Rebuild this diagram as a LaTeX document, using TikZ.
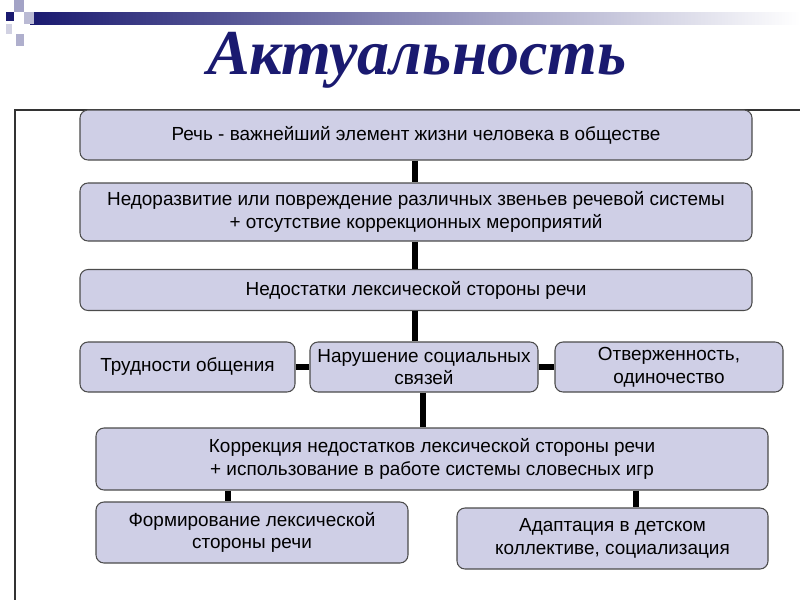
\documentclass[tikz,border=0pt]{standalone}
\usepackage{fontspec}
\setmainfont{Liberation Sans}
\newfontfamily\titlefont{Liberation Serif}
\definecolor{boxfill}{HTML}{CFCFE6}
\definecolor{navy}{HTML}{1A1A70}
\begin{document}
\begin{tikzpicture}[x=0.75pt,y=-0.75pt,
  box/.style={draw=black!70,fill=boxfill,rounded corners=6pt,line width=0.8pt,align=center,font=\fontsize{14.2}{17}\selectfont,inner sep=2pt},
  link/.style={line width=4pt,black}]
\useasboundingbox (0,0) rectangle (800,600);
% decoration
\shade[left color=navy,right color=white] (30,12) rectangle (800,24);
\fill[navy] (6,12) rectangle (14,21);
\fill[navy!40] (14,0) rectangle (24,12);
\fill[navy!30] (24,12) rectangle (34,24);
\fill[navy!20] (6,24) rectangle (12,34);
\fill[navy!35] (16,34) rectangle (24,46);
\node[font=\titlefont\itshape\bfseries\fontsize{48}{52}\selectfont,text=navy] (title) at (417,60) {Актуальность};
% frame
\draw[black!80,line width=0.8pt] (800,110) -- (15,110) -- (15,600);
% boxes
\node[box,minimum width=672*0.75pt,minimum height=50*0.75pt] (b1) at (416,135) {Речь - важнейший элемент жизни человека в обществе};
\node[box,minimum width=672*0.75pt,minimum height=58*0.75pt] (b2) at (416,212) {Недоразвитие или повреждение различных звеньев речевой системы\\+ отсутствие коррекционных мероприятий};
\node[box,minimum width=672*0.75pt,minimum height=41*0.75pt] (b3) at (416,290) {Недостатки лексической стороны речи};
\node[box,minimum width=215*0.75pt,minimum height=50*0.75pt] (b4a) at (187.5,367) {Трудности общения};
\node[box,minimum width=228*0.75pt,minimum height=50*0.75pt] (b4b) at (424,367) {Нарушение социальных\\связей};
\node[box,minimum width=228*0.75pt,minimum height=50*0.75pt] (b4c) at (669,367) {Отверженность,\\одиночество};
\node[box,minimum width=672*0.75pt,minimum height=62*0.75pt] (b5) at (432,459) {Коррекция недостатков лексической стороны речи\\+ использование в работе системы словесных игр};
\node[box,minimum width=312*0.75pt,minimum height=61*0.75pt] (b6a) at (252,532.5) {Формирование лексической\\стороны речи};
\node[box,minimum width=311*0.75pt,minimum height=61*0.75pt] (b6b) at (612.5,538.5) {Адаптация в детском\\коллективе, социализация};
% connectors
\draw[link] (b1.south -| 415,0) -- (b2.north -| 415,0);
\draw[link] (b2.south -| 415,0) -- (b3.north -| 415,0);
\draw[link] (b3.south -| 415,0) -- (b4b.north -| 415,0);
\draw[link] (b4b.south -| 423,0) -- (b5.north -| 423,0);
\draw[link] (b4a.east) -- (b4b.west);
\draw[link] (b4b.east) -- (b4c.west);
\draw[link] (b5.south -| 228,0) -- (b6a.north -| 228,0);
\draw[link] (b5.south -| 636,0) -- (b6b.north -| 636,0);
\end{tikzpicture}
\end{document}
